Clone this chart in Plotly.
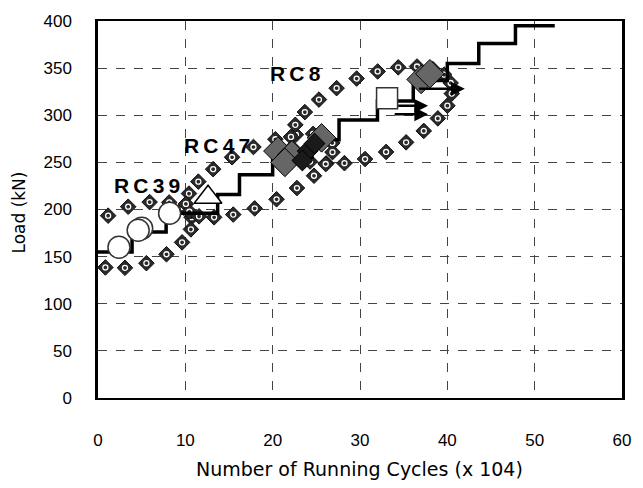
import numpy as np
import plotly.graph_objects as go

# ---------------- data ----------------
# staircase loading history (x in 10^4 cycles, load in kN)
step_x = [0, 3.9, 7.8, 13.7, 16.2, 20.0, 24.5, 27.6, 32.0, 36.1, 40.0, 43.6, 47.8, 52.3]
step_y = [155, 176, 196, 216, 237, 255, 274, 295, 315, 337, 355, 376, 395, 395]

# RC39 specimens (open circles)
circ_x = [2.4, 5.0, 4.6, 8.2]
circ_y = [160, 180, 178, 196]
# open triangle
tri_x = [12.6]
tri_y = [213]
# open square
sq_x = [33.1]
sq_y = [318]
# hatched diamonds (RC47 / RC8)
hat_x = [20.6, 22.2, 21.4, 25.6, 37.0, 38.0]
hat_y = [262, 258, 250, 276, 338, 344]
dark_x = [24.0, 23.4, 24.8]
dark_y = [262, 252, 270]

# run-out arrows: start, end, load
arr_x0 = [34.2, 33.8, 36.6]
arr_x1 = [37.8, 37.8, 42.0]
arr_y = [310, 301, 328]

# group labels
lab_text = ["RC8", "RC47", "RC39"]
lab_x = [22.6, 13.6, 5.6]
lab_y = [344, 268, 226]

# grouping ellipses: centre (data), semi-axes (px), tilt (deg), number of dots
ell_cx = [4.5, 18.5, 31.3]
ell_cy = [173, 236, 300]
ell_a = [58, 81, 87]
ell_b = [30, 29, 40]
ell_ang = [18, 24, 22]
ell_n = [16, 21, 24]

X_RANGE = [0, 60]
Y_RANGE = [0, 400]
PLOT_W, PLOT_H = 533, 381
ML, MR, MT, MB = 98, 12, 17, 90
px_x = PLOT_W / (X_RANGE[1] - X_RANGE[0])
px_y = PLOT_H / (Y_RANGE[1] - Y_RANGE[0])

fig = go.Figure()

# ellipses of dots
for cx, cy, a, b, ang, n in zip(ell_cx, ell_cy, ell_a, ell_b, ell_ang, ell_n):
    t = np.linspace(0, 2 * np.pi, n, endpoint=False)
    th = np.deg2rad(ang)
    dx = a * np.cos(t) * np.cos(th) - b * np.sin(t) * np.sin(th)
    dy = a * np.cos(t) * np.sin(th) + b * np.sin(t) * np.cos(th)
    ex = cx + dx / px_x
    ey = cy + dy / px_y
    fig.add_trace(go.Scatter(x=ex, y=ey, mode="markers", hoverinfo="skip", cliponaxis=False,
                             marker=dict(symbol="diamond", size=12, color="#2a2a2a",
                                         line=dict(color="#111", width=1))))
    fig.add_trace(go.Scatter(x=ex, y=ey, mode="markers", hoverinfo="skip", cliponaxis=False,
                             marker=dict(symbol="circle-open", size=5, color="white",
                                         line=dict(color="white", width=1.3))))

# staircase
fig.add_trace(go.Scatter(x=step_x, y=step_y, mode="lines", line_shape="hv",
                         line=dict(color="black", width=3.5)))

# specimen markers
fig.add_trace(go.Scatter(x=circ_x, y=circ_y, mode="markers",
                         marker=dict(symbol="circle", size=22, color="white",
                                     line=dict(color="#333", width=1.5))))
fig.add_trace(go.Scatter(x=tri_x, y=tri_y, mode="markers",
                         marker=dict(symbol="triangle-up", size=24, color="white",
                                     line=dict(color="black", width=1.5))))
fig.add_trace(go.Scatter(x=sq_x, y=sq_y, mode="markers",
                         marker=dict(symbol="square", size=21, color="white",
                                     line=dict(color="#333", width=1.5))))
fig.add_trace(go.Scatter(x=hat_x, y=hat_y, mode="markers",
                         marker=dict(symbol="diamond", size=22, color="#666",
                                     line=dict(color="black", width=1))))
fig.add_trace(go.Scatter(x=dark_x, y=dark_y, mode="markers",
                         marker=dict(symbol="diamond", size=16, color="#1a1a1a",
                                     line=dict(color="black", width=1))))

# arrows
for x0, x1, y in zip(arr_x0, arr_x1, arr_y):
    fig.add_annotation(x=x1, y=y, ax=x0, ay=y, xref="x", yref="y", axref="x", ayref="y",
                       text="", showarrow=True, arrowhead=2, arrowsize=1.1,
                       arrowwidth=2.5, arrowcolor="black")

# labels (thin spaces give the wide letter spacing of the original)
for t_, x_, y_ in zip(lab_text, lab_x, lab_y):
    fig.add_annotation(x=x_, y=y_, xref="x", yref="y",
                       text="<b>" + "\u2009".join(t_) + "</b>",
                       showarrow=False,
                       font=dict(family="Liberation Sans", size=21, color="black"))

# axis titles
fig.add_annotation(x=0.499, y=-0.189, xref="paper", yref="paper",
                   xanchor="center", yanchor="middle",
                   text="Number of Running Cycles (x 104)", showarrow=False,
                   font=dict(family="DejaVu Sans", size=19, color="black"))
fig.add_annotation(x=-0.150, y=0.493, xref="paper", yref="paper",
                   xanchor="center", yanchor="middle", textangle=-90,
                   text="Load (kN)", showarrow=False,
                   font=dict(family="DejaVu Sans", size=17, color="black"))

fig.update_layout(
    width=643, height=488, showlegend=False,
    margin=dict(l=ML, r=MR, t=MT, b=MB),
    paper_bgcolor="white", plot_bgcolor="white",
    font=dict(family="Liberation Sans", size=16, color="black"),
)
fig.update_xaxes(range=X_RANGE, dtick=10, showgrid=True, gridcolor="#444",
                 griddash="dash", gridwidth=1, zeroline=False,
                 showline=True, linecolor="black", linewidth=2, mirror=True,
                 ticks="", ticklabelstandoff=26,
                 tickfont=dict(family="Liberation Sans", size=17))
fig.update_yaxes(range=Y_RANGE, dtick=50, showgrid=True, gridcolor="#444",
                 griddash="dash", gridwidth=1, zeroline=False,
                 showline=True, linecolor="black", linewidth=2.5, mirror=True,
                 ticks="", ticklabelstandoff=20,
                 tickfont=dict(family="Liberation Sans", size=17))

fig.write_html("out.html")
